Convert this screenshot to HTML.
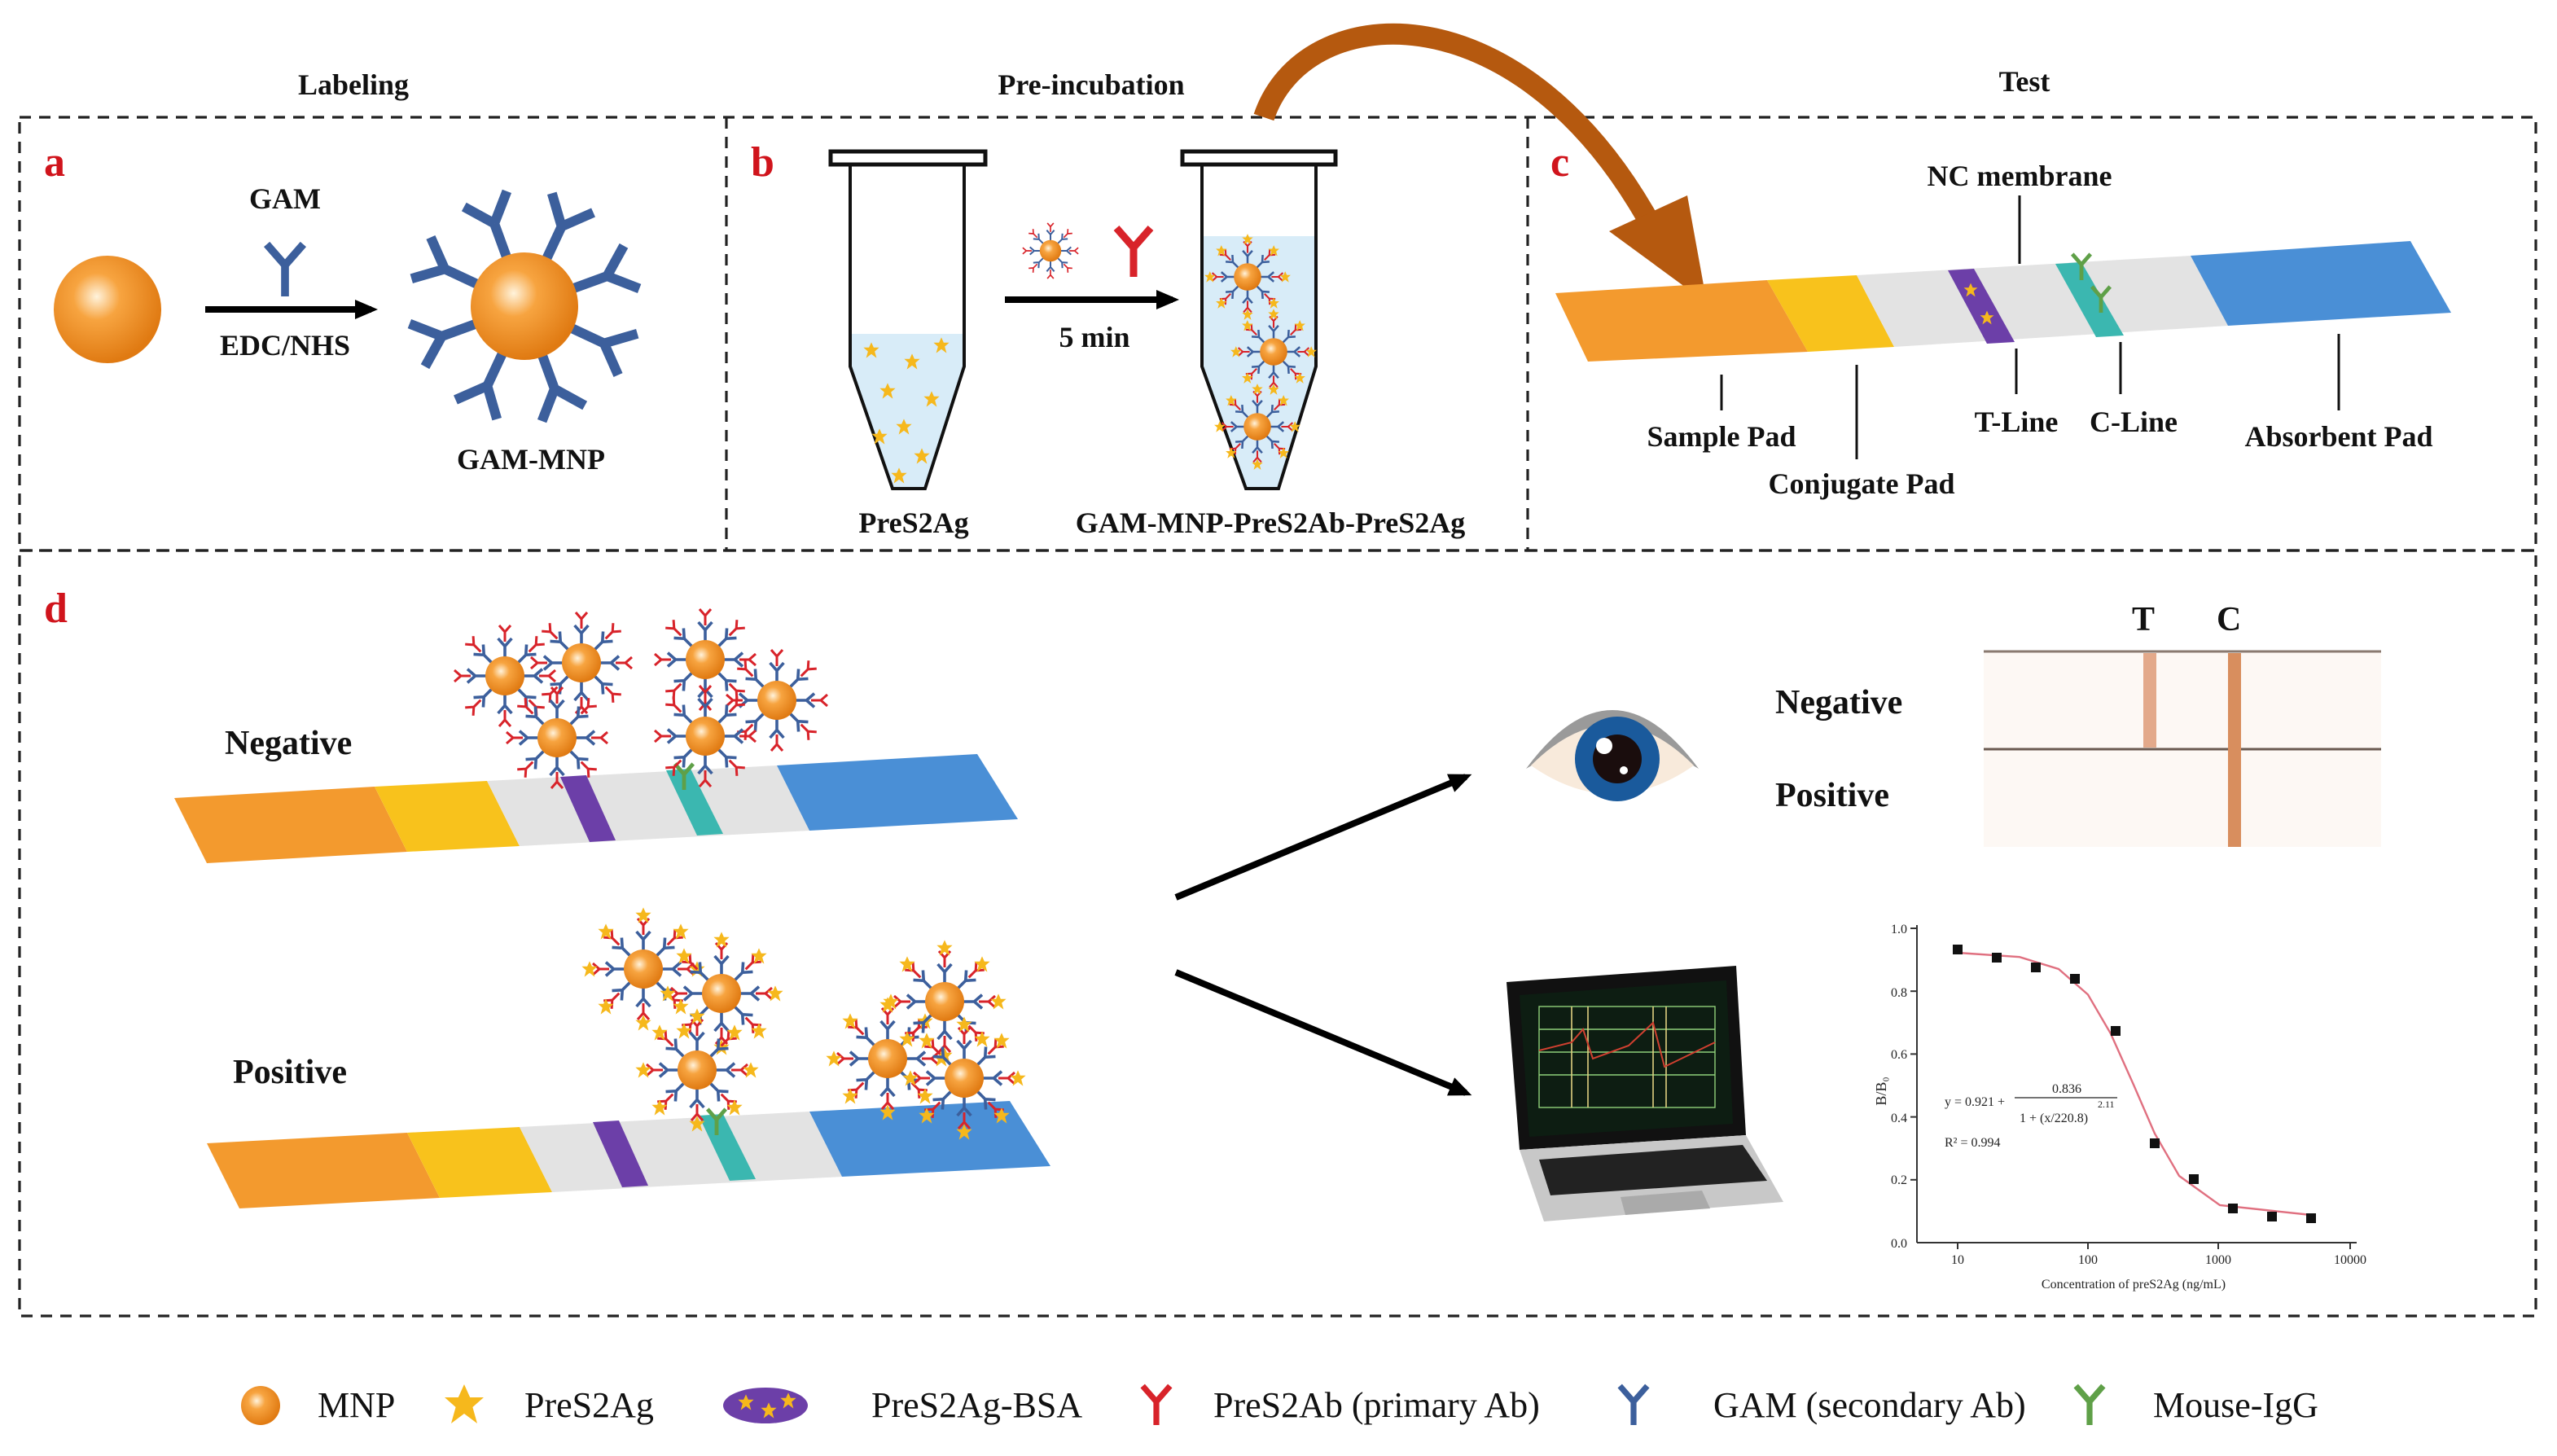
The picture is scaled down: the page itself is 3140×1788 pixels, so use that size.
<!DOCTYPE html>
<html><head><meta charset="utf-8"><style>html,body{margin:0;padding:0;background:#fff}svg{display:block}text{font-family:"Liberation Serif",serif}</style></head><body>
<svg width="3140" height="1788" viewBox="0 0 1570 894" xmlns="http://www.w3.org/2000/svg">
<defs>
<radialGradient id="sg" cx="40%" cy="38%" r="62%"><stop offset="0" stop-color="#fff3dc"/><stop offset="0.35" stop-color="#f7a440"/><stop offset="1" stop-color="#e07a12"/></radialGradient>
<g id="abB"><path d="M0,0V-12M0,-12L-7,-20M0,-12L7,-20" stroke="#3c5f9c" stroke-width="3" fill="none"/></g>
<g id="abR"><path d="M0,0V-12M0,-12L-7,-20M0,-12L7,-20" stroke="#d8232a" stroke-width="3" fill="none"/></g>
<g id="abG"><path d="M0,0V-12M0,-12L-7,-20M0,-12L7,-20" stroke="#5fa048" stroke-width="3" fill="none"/></g>
<polygon id="st" points="0,-6 1.8,-2 6,-2 2.6,1 4,6 0,3 -4,6 -2.6,1 -6,-2 -1.8,-2" fill="#f6b81c"/>
<g id="cx">
<g transform="rotate(0)"><use href="#abB" transform="translate(0,-11) scale(.6)"/><use href="#abR" transform="translate(0,-21) scale(.5)"/></g>
<g transform="rotate(45)"><use href="#abB" transform="translate(0,-11) scale(.6)"/><use href="#abR" transform="translate(0,-21) scale(.5)"/></g>
<g transform="rotate(90)"><use href="#abB" transform="translate(0,-11) scale(.6)"/><use href="#abR" transform="translate(0,-21) scale(.5)"/></g>
<g transform="rotate(135)"><use href="#abB" transform="translate(0,-11) scale(.6)"/><use href="#abR" transform="translate(0,-21) scale(.5)"/></g>
<g transform="rotate(180)"><use href="#abB" transform="translate(0,-11) scale(.6)"/><use href="#abR" transform="translate(0,-21) scale(.5)"/></g>
<g transform="rotate(225)"><use href="#abB" transform="translate(0,-11) scale(.6)"/><use href="#abR" transform="translate(0,-21) scale(.5)"/></g>
<g transform="rotate(270)"><use href="#abB" transform="translate(0,-11) scale(.6)"/><use href="#abR" transform="translate(0,-21) scale(.5)"/></g>
<g transform="rotate(315)"><use href="#abB" transform="translate(0,-11) scale(.6)"/><use href="#abR" transform="translate(0,-21) scale(.5)"/></g>
<circle r="12" fill="url(#sg)"/>
</g>
<g id="cxp"><use href="#cx"/>
<use href="#st" transform="translate(0,-33) scale(.8)"/><use href="#st" transform="translate(23,-23) scale(.8)"/><use href="#st" transform="translate(33,0) scale(.8)"/><use href="#st" transform="translate(23,23) scale(.8)"/><use href="#st" transform="translate(0,33) scale(.8)"/><use href="#st" transform="translate(-23,23) scale(.8)"/><use href="#st" transform="translate(-33,0) scale(.8)"/><use href="#st" transform="translate(-23,-23) scale(.8)"/>
</g>
<marker id="ah" markerWidth="14" markerHeight="12" refX="10" refY="6" orient="auto" markerUnits="userSpaceOnUse"><path d="M0,0L14,6L0,12Z" fill="#000"/></marker>
</defs>

<g font-weight="bold" font-size="18" text-anchor="middle" fill="#111">
<text x="217" y="58">Labeling</text><text x="670" y="58">Pre-incubation</text><text x="1243" y="56">Test</text>
</g>
<g fill="none" stroke="#222" stroke-width="1.6" stroke-dasharray="7,5">
<rect x="12" y="72" width="1545" height="266"/><rect x="12" y="338" width="1545" height="470"/>
<line x1="446" y1="72" x2="446" y2="338"/><line x1="938" y1="72" x2="938" y2="338"/>
</g>
<g font-weight="bold" font-size="26" fill="#d0141c">
<text x="27" y="108">a</text><text x="461" y="108">b</text><text x="952" y="108">c</text><text x="27" y="382">d</text>
</g>

<!-- panel a -->
<circle cx="66" cy="190" r="33" fill="url(#sg)"/>
<line x1="126" y1="190" x2="228" y2="190" stroke="#000" stroke-width="4" marker-end="url(#ah)"/>
<use href="#abB" transform="translate(175,182) scale(1.6)"/>
<g font-weight="bold" font-size="18" text-anchor="middle" fill="#111"><text x="175" y="128">GAM</text><text x="175" y="218">EDC/NHS</text><text x="326" y="288">GAM-MNP</text></g>
<g transform="translate(322,188)">
<use href="#abB" transform="rotate(-20) translate(0,-30) scale(2)"/><use href="#abB" transform="rotate(25) translate(0,-30) scale(2)"/><use href="#abB" transform="rotate(70) translate(0,-30) scale(2)"/><use href="#abB" transform="rotate(115) translate(0,-30) scale(2)"/><use href="#abB" transform="rotate(160) translate(0,-30) scale(2)"/><use href="#abB" transform="rotate(205) translate(0,-30) scale(2)"/><use href="#abB" transform="rotate(250) translate(0,-30) scale(2)"/><use href="#abB" transform="rotate(295) translate(0,-30) scale(2)"/>
<circle r="33" fill="url(#sg)"/></g>

<!-- panel b -->
<rect x="510" y="93" width="95" height="8" fill="#fff" stroke="#111" stroke-width="2.5"/>
<path d="M522,205H592V225L568,300H548L522,225Z" fill="#d8ecf8"/>
<path d="M522,101V225L548,300H568L592,225V101" fill="none" stroke="#111" stroke-width="2"/>
<g><use href="#st" transform="translate(535,215) scale(.8)"/><use href="#st" transform="translate(560,222) scale(.8)"/><use href="#st" transform="translate(578,212) scale(.8)"/><use href="#st" transform="translate(545,240) scale(.8)"/><use href="#st" transform="translate(572,245) scale(.8)"/><use href="#st" transform="translate(555,262) scale(.8)"/><use href="#st" transform="translate(540,268) scale(.8)"/><use href="#st" transform="translate(566,280) scale(.8)"/><use href="#st" transform="translate(552,292) scale(.8)"/></g>
<rect x="726" y="93" width="94" height="8" fill="#fff" stroke="#111" stroke-width="2.5"/>
<path d="M738,145H808V225L785,300H765L738,225Z" fill="#d8ecf8"/>
<path d="M738,101V225L765,300H785L808,225V101" fill="none" stroke="#111" stroke-width="2"/>
<use href="#cxp" transform="translate(766,170) scale(.7)"/><use href="#cxp" transform="translate(782,216) scale(.7)"/><use href="#cxp" transform="translate(772,262) scale(.7)"/>
<line x1="617" y1="184" x2="720" y2="184" stroke="#000" stroke-width="4" marker-end="url(#ah)"/>
<use href="#cx" transform="translate(645,154) scale(.55)"/>
<use href="#abR" transform="translate(696,170) scale(1.5)"/>
<g font-weight="bold" font-size="18" text-anchor="middle" fill="#111"><text x="672" y="213">5 min</text><text x="561" y="327">PreS2Ag</text><text x="780" y="327">GAM-MNP-PreS2Ab-PreS2Ag</text></g>

<!-- curved arrow -->
<path d="M776,72 C800,0 930,-10 1012,135" fill="none" stroke="#b5590f" stroke-width="13"/>
<polygon points="988,142 1036,120 1048,186" fill="#b5590f"/>

<!-- panel c strip -->
<polygon points="955,180 1085,172 1110,216 975,222" fill="#f39a2e"/>
<polygon points="1085,172 1140,169 1163,213 1110,216" fill="#f8c21c"/>
<polygon points="1140,169 1345,157 1368,200 1163,213" fill="#e3e3e3"/>
<polygon points="1345,157 1480,148 1505,192 1368,200" fill="#4a8fd6"/>
<polygon points="1196,166 1212,165 1237,210 1220,211" fill="#6c3fa8"/>
<use href="#st" transform="translate(1210,178) scale(.7)"/><use href="#st" transform="translate(1220,195) scale(.7)"/>
<polygon points="1262,162 1278,161 1304,206 1287,207" fill="#3bb7b0"/>
<use href="#abG" transform="translate(1278,172) scale(.8)"/><use href="#abG" transform="translate(1290,192) scale(.8)"/>
<g stroke="#111" stroke-width="1.5"><line x1="1240" y1="120" x2="1240" y2="162"/><line x1="1057" y1="230" x2="1057" y2="252"/><line x1="1140" y1="224" x2="1140" y2="282"/><line x1="1238" y1="214" x2="1238" y2="242"/><line x1="1302" y1="210" x2="1302" y2="242"/><line x1="1436" y1="205" x2="1436" y2="252"/></g>
<g font-weight="bold" font-size="18" text-anchor="middle" fill="#111"><text x="1240" y="114">NC membrane</text><text x="1057" y="274">Sample Pad</text><text x="1143" y="303">Conjugate Pad</text><text x="1238" y="265">T-Line</text><text x="1310" y="265">C-Line</text><text x="1436" y="274">Absorbent Pad</text></g>

<!-- panel d strips -->
<g font-weight="bold" font-size="21" fill="#111"><text x="138" y="463">Negative</text><text x="143" y="665">Positive</text></g>
<polygon points="107,490 230,483 250,523 127,530" fill="#f39a2e"/>
<polygon points="230,483 299,479.5 319,519.5 250,523" fill="#f8c21c"/>
<polygon points="299,479.5 477,470 497,510 319,519.5" fill="#e3e3e3"/>
<polygon points="477,470 600,463 625,503 497,510" fill="#4a8fd6"/>
<polygon points="344,477 360,476 378,516 362,517" fill="#6c3fa8"/>
<polygon points="409,473 424,472 444,512 428,513" fill="#3bb7b0"/>
<polygon points="127,702 250,695.5 270,735.5 147,742" fill="#f39a2e"/>
<polygon points="250,695.5 319,692 339,732 270,735.5" fill="#f8c21c"/>
<polygon points="319,692 497,682.5 517,722.5 339,732" fill="#e3e3e3"/>
<polygon points="497,682.5 620,676 645,716 517,722.5" fill="#4a8fd6"/>
<polygon points="364,689 380,688 398,728 382,729" fill="#6c3fa8"/>
<polygon points="429,685 444,684 464,724 448,725" fill="#3bb7b0"/>
<use href="#abG" transform="translate(420,485) scale(.8)"/><use href="#abG" transform="translate(440,697) scale(.8)"/>
<use href="#cx" transform="translate(310,415)"/><use href="#cx" transform="translate(357,407)"/><use href="#cx" transform="translate(342,453)"/>
<use href="#cx" transform="translate(433,405)"/><use href="#cx" transform="translate(477,430)"/><use href="#cx" transform="translate(433,452)"/>
<use href="#cxp" transform="translate(395,595)"/><use href="#cxp" transform="translate(443,610)"/><use href="#cxp" transform="translate(428,657)"/>
<use href="#cxp" transform="translate(545,650)"/><use href="#cxp" transform="translate(580,615)"/><use href="#cxp" transform="translate(592,662)"/>

<line x1="722" y1="551" x2="900" y2="477" stroke="#000" stroke-width="4" marker-end="url(#ah)"/>
<line x1="722" y1="597" x2="900" y2="671" stroke="#000" stroke-width="4" marker-end="url(#ah)"/>

<!-- eye -->
<path d="M937,472 Q990,400 1043,472 Q990,440 937,472Z" fill="#9a9a9a"/>
<path d="M940,470 Q990,420 1040,470 Q990,505 940,470Z" fill="#f8eadb"/>
<circle cx="993" cy="466" r="26" fill="#1a5a9c"/><circle cx="993" cy="466" r="15" fill="#1a0d0d"/><circle cx="985" cy="458" r="5" fill="#fff"/><circle cx="997" cy="473" r="2.5" fill="#fff"/>
<g font-weight="bold" font-size="21" fill="#111"><text x="1090" y="438">Negative</text><text x="1090" y="495">Positive</text><text x="1309" y="387">T</text><text x="1361" y="387">C</text></g>
<rect x="1218" y="400" width="244" height="120" fill="#fdf8f4"/>
<line x1="1218" y1="400" x2="1462" y2="400" stroke="#8a7a70" stroke-width="1.5"/>
<line x1="1218" y1="460" x2="1462" y2="460" stroke="#6a5a50" stroke-width="1.5"/>
<rect x="1316" y="401" width="8" height="58" fill="#e3a98a"/>
<rect x="1368" y="401" width="8" height="119" fill="#d88e5e"/>

<!-- laptop -->
<polygon points="925,603 1066,593 1072,697 933,706" fill="#111"/>
<polygon points="933,611 1060,602 1064,690 939,698" fill="#0d1d12"/>
<g stroke="#8fd07a" stroke-width=".7" fill="none"><rect x="945" y="618" width="108" height="62"/><line x1="945" y1="632" x2="1053" y2="632"/><line x1="945" y1="646" x2="1053" y2="646"/><line x1="945" y1="660" x2="1053" y2="660"/></g>
<g stroke="#e0d080" stroke-width=".8"><line x1="965" y1="618" x2="965" y2="680"/><line x1="975" y1="618" x2="975" y2="680"/><line x1="1015" y1="618" x2="1015" y2="680"/><line x1="1023" y1="618" x2="1023" y2="680"/></g>
<path d="M945,645 L965,640 L972,632 L978,650 L1000,642 L1015,628 L1022,655 L1053,640" stroke="#d04030" stroke-width="1" fill="none"/>
<polygon points="933,706 1072,697 1095,738 948,750" fill="#c8c8c8"/>
<polygon points="945,712 1070,703 1085,725 952,734" fill="#222"/>
<polygon points="995,735 1045,731 1050,742 998,746" fill="#aaa"/>

<!-- chart -->
<g stroke="#333" stroke-width="1" fill="none"><line x1="1177" y1="568" x2="1177" y2="763"/><line x1="1177" y1="763" x2="1447" y2="763"/>
<line x1="1173" y1="570" x2="1177" y2="570"/><line x1="1173" y1="608.6" x2="1177" y2="608.6"/><line x1="1173" y1="647.2" x2="1177" y2="647.2"/><line x1="1173" y1="685.8" x2="1177" y2="685.8"/><line x1="1173" y1="724.4" x2="1177" y2="724.4"/>
<line x1="1202" y1="763" x2="1202" y2="767"/><line x1="1282" y1="763" x2="1282" y2="767"/><line x1="1362" y1="763" x2="1362" y2="767"/><line x1="1443" y1="763" x2="1443" y2="767"/></g>
<polyline points="1202,585 1240,587.6 1264,595 1282,610.7 1296,634.7 1310,666 1323,696 1338,722 1363,740 1419,746" fill="none" stroke="#e07080" stroke-width="1.2"/>
<g fill="#111"><rect x="1199" y="580" width="6" height="6"/><rect x="1223" y="585" width="6" height="6"/><rect x="1247" y="591" width="6" height="6"/><rect x="1271" y="598" width="6" height="6"/><rect x="1296" y="630" width="6" height="6"/><rect x="1320" y="699" width="6" height="6"/><rect x="1344" y="721" width="6" height="6"/><rect x="1368" y="739" width="6" height="6"/><rect x="1392" y="744" width="6" height="6"/><rect x="1416" y="745" width="6" height="6"/></g>
<g font-size="8" fill="#222" text-anchor="end"><text x="1171" y="573">1.0</text><text x="1171" y="612">0.8</text><text x="1171" y="650">0.6</text><text x="1171" y="689">0.4</text><text x="1171" y="727">0.2</text><text x="1171" y="766">0.0</text></g>
<g font-size="8" fill="#222" text-anchor="middle"><text x="1202" y="776">10</text><text x="1282" y="776">100</text><text x="1362" y="776">1000</text><text x="1443" y="776">10000</text><text x="1310" y="791">Concentration of preS2Ag (ng/mL)</text></g>
<text x="1158" y="670" font-size="9" fill="#222" transform="rotate(-90 1158 670)" text-anchor="middle">B/B₀</text>
<g font-size="8" fill="#222"><text x="1194" y="679">y = 0.921 +</text><text x="1260" y="671">0.836</text><line x1="1237" y1="674" x2="1300" y2="674" stroke="#222" stroke-width=".6"/><text x="1240" y="689">1 + (x/220.8)</text><text x="1288" y="680" font-size="6">2.11</text><text x="1194" y="704">R² = 0.994</text></g>

<!-- legend -->
<circle cx="160" cy="863" r="12" fill="url(#sg)"/>
<use href="#st" transform="translate(285,862) scale(2)"/>
<ellipse cx="470" cy="863" rx="26" ry="11" fill="#6c3fa8"/>
<use href="#st" transform="translate(458,861) scale(.8)"/><use href="#st" transform="translate(472,866) scale(.8)"/><use href="#st" transform="translate(484,860) scale(.8)"/>
<use href="#abR" transform="translate(710,875) scale(1.2)"/>
<use href="#abB" transform="translate(1003,875) scale(1.2)"/>
<use href="#abG" transform="translate(1283,875) scale(1.2)"/>
<g font-size="22" fill="#111"><text x="195" y="870">MNP</text><text x="322" y="870">PreS2Ag</text><text x="535" y="870">PreS2Ag-BSA</text><text x="745" y="870">PreS2Ab (primary Ab)</text><text x="1052" y="870">GAM (secondary Ab)</text><text x="1322" y="870">Mouse-IgG</text></g>
</svg>
</body></html>
